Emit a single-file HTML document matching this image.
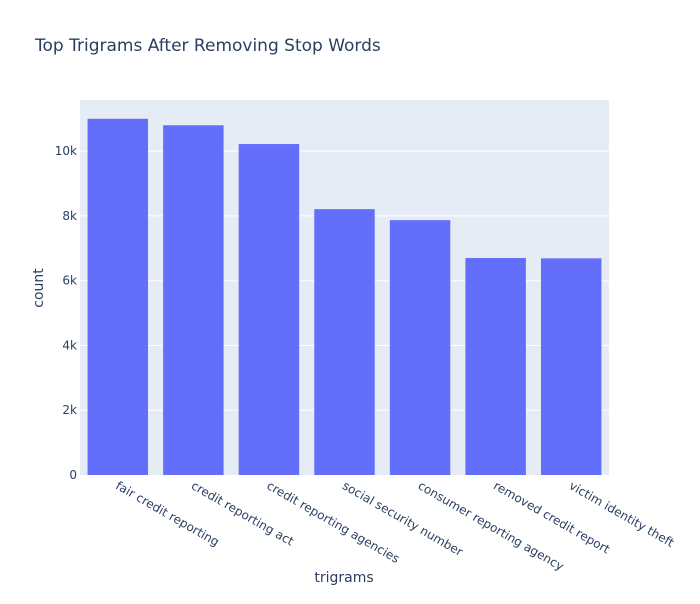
<!DOCTYPE html>
<html><head><meta charset="utf-8"><style>
body{margin:0;background:#fff;font-family:"DejaVu Sans","Liberation Sans",sans-serif;}
svg text{font-family:"DejaVu Sans","Liberation Sans",sans-serif;}
</style></head><body>
<svg id="chart" width="700" height="600" xmlns="http://www.w3.org/2000/svg">
<rect width="700" height="600" fill="#fff"/>
<text x="35" y="51" font-size="17" fill="#2a3f5f">Top Trigrams After Removing Stop Words</text>
<rect x="80" y="100" width="529" height="375" fill="#e5ecf6"/>
<g id="grid"></g><g id="bars"></g><g id="xlabels"></g><g id="ylabels"></g>
<text x="344" y="582" font-size="14" fill="#2a3f5f" text-anchor="middle">trigrams</text>
<text transform="translate(43,288) rotate(-90)" font-size="14" fill="#2a3f5f" text-anchor="middle">count</text>
</svg>
<script>
const categories=["fair credit reporting","credit reporting act","credit reporting agencies","social security number","consumer reporting agency","removed credit report","victim identity theft"];
const counts=[11000,10800,10220,8210,7870,6700,6690];
const yTicks=[0,2000,4000,6000,8000,10000];
const yTickLabels=["0","2k","4k","6k","8k","10k"];
const X0=80,W=529,Y0=475,H=375,YMAX=11580;
const ns="http://www.w3.org/2000/svg";
function y(v){return Y0-v/YMAX*H;}
function xc(i){return X0+(i+0.5)*W/categories.length;}
function mk(t,a,p){const e=document.createElementNS(ns,t);for(const k in a)e.setAttribute(k,a[k]);document.getElementById(p).appendChild(e);return e;}
yTicks.forEach((v,i)=>{
 if(v>0){const g=mk('line',{x1:X0,x2:X0+W,y1:y(v),y2:y(v),stroke:'#fff','stroke-width':1},'grid');
 
 }
 const t=mk('text',{x:X0-3,y:y(v)+4,'font-size':12,fill:'#2a3f5f','text-anchor':'end'},'ylabels');
 t.textContent=yTickLabels[i];
 
 
});
const bw=0.8*W/categories.length;
categories.forEach((c,i)=>{
 const b=mk('rect',{x:xc(i)-bw/2,y:y(counts[i]),width:bw,height:Y0-y(counts[i]),fill:'#636efa'},'bars');
 
 
 const t=mk('text',{transform:`translate(${xc(i)-3},${Y0+13}) rotate(30)`,'font-size':12,fill:'#2a3f5f'},'xlabels');
 t.textContent=c;
 
 
});
</script>
</body></html>
